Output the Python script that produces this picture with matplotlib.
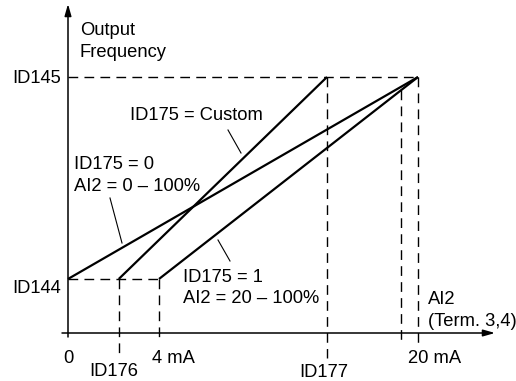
import matplotlib
matplotlib.use("Agg")
import matplotlib.pyplot as plt

# ---- data (schematic units: x = analog input position, y = % of output frequency) ----
x_zero = 0.0
x_id176 = 2.9
x_4ma = 5.2
x_id177 = 14.8
x_max_custom = 19.03
x_20ma = 20.0
f_min = 21.1     # ID144
f_max = 100.0    # ID145

line_names = ["ID175 = 0", "ID175 = Custom", "ID175 = 1"]
line_x = [[x_zero, x_20ma], [x_id176, x_id177], [x_4ma, x_20ma]]
line_y = [[f_min, f_max], [f_min, f_max], [f_min, f_max]]

x_tick_labels = ["0", "ID176", "4 mA", "ID177", "20 mA"]
y_tick_labels = ["ID144", "ID145"]

# ---- figure ----
W, H = 516, 381
fig = plt.figure(figsize=(W / 100, H / 100), dpi=100)
ax = fig.add_axes([0, 0, 1, 1])
ax.axis("off")
# pixel mapping: x 0 -> 68px, 20 -> 418px ; y 0 -> 333px, 100 -> 77px
sx = 17.5
sy = 2.56
ax.set_xlim((0 - 68) / sx, (W - 68) / sx)
ax.set_ylim((333 - H) / sy, 333 / sy)

def px(xp):
    return (xp - 68) / sx

def py(yp):
    return (333 - yp) / sy

plt.rcParams["font.family"] = ["Liberation Sans", "DejaVu Sans"]
fs = 13.2
col = "black"

# axes with arrows
ax.annotate("", xy=(px(495), 0), xytext=(px(62), 0),
            arrowprops=dict(arrowstyle="-|>,head_length=0.7,head_width=0.2",
                            lw=1.1, color=col, shrinkA=0, shrinkB=0))
ax.annotate("", xy=(0, py(4)), xytext=(0, py(337)),
            arrowprops=dict(arrowstyle="-|>,head_length=0.7,head_width=0.2",
                            lw=1.1, color=col, shrinkA=0, shrinkB=0))

dash = dict(color=col, lw=1.0, dashes=(7, 4.5))
# dashed guides
ax.plot([x_zero, x_20ma], [f_max, f_max], **dash)
ax.plot([x_zero, x_4ma], [f_min, f_min], **dash)
ax.plot([x_20ma, x_20ma], [f_max, py(346)], **dash)
ax.plot([x_id177, x_id177], [f_max, py(358)], **dash)
slope = (f_max - f_min) / (x_20ma - x_4ma)
ax.plot([x_max_custom, x_max_custom], [f_min + slope * (x_max_custom - x_4ma), py(344)], **dash)
ax.plot([x_id176, x_id176], [f_min, py(356)], **dash)
ax.plot([x_4ma, x_4ma], [f_min, py(342)], **dash)

# characteristic lines
for xs, ys in zip(line_x, line_y):
    ax.plot(xs, ys, color=col, lw=1.6, solid_capstyle="butt")

# leader lines
ax.plot([px(228), px(241)], [py(130), py(153)], color=col, lw=0.8)
ax.plot([px(110), px(122)], [py(198), py(243)], color=col, lw=0.8)
ax.plot([px(218), px(230)], [py(240), py(261)], color=col, lw=0.8)

# texts (baseline-aligned)
tk = dict(fontsize=fs, va="baseline")
ax.text(px(80), py(35), "Output", ha="left", **tk)
ax.text(px(80), py(57), "Frequency", ha="left", **tk)
ax.text(px(61), py(83), y_tick_labels[1], ha="right", **tk)
ax.text(px(61), py(293), y_tick_labels[0], ha="right", **tk)
ax.text(px(130), py(120), line_names[1], ha="left", **tk)
ax.text(px(74), py(169), line_names[0], ha="left", **tk)
ax.text(px(74), py(191), "AI2 = 0 – 100%", ha="left", **tk)
ax.text(px(183), py(282), line_names[2], ha="left", **tk)
ax.text(px(183), py(303), "AI2 = 20 – 100%", ha="left", **tk)
ax.text(px(428), py(304), "AI2", ha="left", **tk)
ax.text(px(428), py(326), "(Term. 3,4)", ha="left", **tk)

ax.text(x_zero, py(363), x_tick_labels[0], ha="center", **tk)
ax.text(px(114), py(376), x_tick_labels[1], ha="center", **tk)
ax.text(px(152), py(363), x_tick_labels[2], ha="left", **tk)
ax.text(px(324), py(377), x_tick_labels[3], ha="center", **tk)
ax.text(px(408), py(363), x_tick_labels[4], ha="left", **tk)

fig.savefig("out.png", dpi=100, facecolor="white")
